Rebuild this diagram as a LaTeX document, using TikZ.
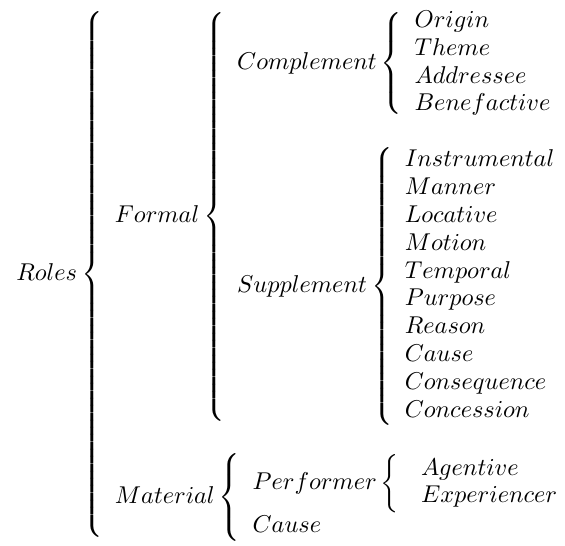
\documentclass[tikz,border=0pt]{standalone}
\usepackage{amsmath}
\newcommand{\perfgap}{\hspace{4pt}}
\begin{document}
\begin{tikzpicture}
\node[overlay,inner sep=0pt] (tree) {\renewcommand{\arraystretch}{0.955}$
Roles\left\{
\begin{array}{l}
Formal\left\{
  \begin{array}{l}
  Complement\left\{
    \begin{array}{l}
    Origin\\ Theme\\ Addressee\\ Benefactive
    \end{array}\right.\\
  \\
  Supplement\left\{
    \begin{array}{l}
    Instrumental\\ Manner\\ Locative\\ Motion\\ Temporal\\ Purpose\\ Reason\\ Cause\\ Consequence\\ Concession
    \end{array}\right.
  \end{array}\right.\\
\\
Material\left\{
  \begin{array}{l}
  Performer\left\{
    \begin{array}{l}
    \perfgap Agentive\\ \perfgap Experiencer
    \end{array}\right.\\
  Cause
  \end{array}\right.
\end{array}\right.
$};
\useasboundingbox ([xshift=-6.5pt,yshift=-1.7pt]tree.south west) rectangle ([xshift=-15.6pt,yshift=3pt]tree.north east);
\end{tikzpicture}
\end{document}
